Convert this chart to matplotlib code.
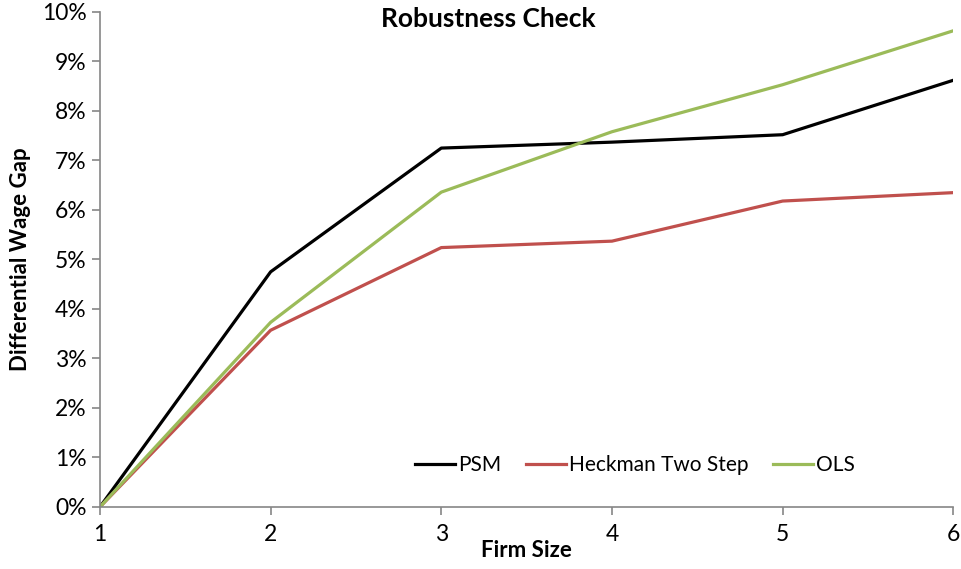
import matplotlib.pyplot as plt
from matplotlib.ticker import PercentFormatter

plt.rcParams['font.family'] = ['Lato', 'DejaVu Sans']

firm_size = [1, 2, 3, 4, 5, 6]
psm = [0.0, 4.75, 7.25, 7.37, 7.52, 8.62]
heckman = [0.0, 3.57, 5.24, 5.37, 6.18, 6.35]
ols = [0.0, 3.73, 6.36, 7.58, 8.53, 9.62]

fig = plt.figure(figsize=(9.61, 5.69), dpi=100)
ax = fig.add_axes([0.104, 0.109, 0.888, 0.87])

ax.plot(firm_size, psm, color='black', lw=2.3, label='PSM')
ax.plot(firm_size, heckman, color='#C0504D', lw=2.3, label='Heckman Two Step')
ax.plot(firm_size, ols, color='#9BBB59', lw=2.3, label='OLS')

ax.set_xlim(1, 6)
ax.set_ylim(0, 10)
ax.set_xticks(firm_size)
ax.set_yticks(range(0, 11))
ax.yaxis.set_major_formatter(PercentFormatter(decimals=0))

for side in ['top', 'right']:
    ax.spines[side].set_visible(False)
for side in ['left', 'bottom']:
    ax.spines[side].set_color('#868686')
    ax.spines[side].set_linewidth(1.2)
ax.tick_params(colors='#868686', labelcolor='black', labelsize=16.5, length=6, width=1.2)
ax.tick_params(axis='x', pad=6)

ax.set_xlabel('Firm Size', fontsize=16, fontweight='bold', labelpad=-3)
ax.set_ylabel('Differential Wage Gap', fontsize=16, fontweight='bold', labelpad=8)
ax.text(0.455, 0.985, 'Robustness Check', transform=ax.transAxes, ha='center',
        va='center', fontsize=19, fontweight='bold')

ax.legend(loc='center', bbox_to_anchor=(0.627, 0.085), ncol=3, frameon=False,
          fontsize=15, handlelength=1.9, handletextpad=0.15, columnspacing=1.2)

fig.savefig('out.png', dpi=100)
